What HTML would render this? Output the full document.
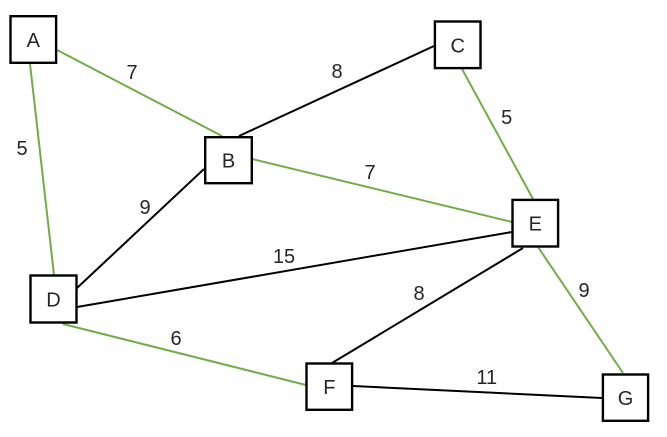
<!DOCTYPE html>
<html>
<head>
<meta charset="utf-8">
<style>
html,body{margin:0;padding:0;background:#fff;}
svg{display:block;}
text{font-family:"Liberation Sans","Noto Sans CJK SC",sans-serif;font-size:20px;fill:#262626;text-anchor:middle;}
</style>
</head>
<body>
<svg width="667" height="437" viewBox="0 0 667 437" xmlns="http://www.w3.org/2000/svg">
  <!-- edges -->
  <g stroke-width="2" fill="none">
    <line x1="57" y1="50" x2="222" y2="136" stroke="#70AD47"/>
    <line x1="30" y1="64" x2="54" y2="275" stroke="#70AD47"/>
    <line x1="239" y1="136" x2="434" y2="46" stroke="#000"/>
    <line x1="252" y1="159" x2="512" y2="222" stroke="#70AD47"/>
    <line x1="204" y1="169" x2="77" y2="288" stroke="#000"/>
    <line x1="462" y1="69" x2="533" y2="199" stroke="#70AD47"/>
    <line x1="77" y1="307" x2="512" y2="232" stroke="#000"/>
    <line x1="63" y1="324" x2="306" y2="385" stroke="#70AD47"/>
    <line x1="523" y1="248" x2="332" y2="363" stroke="#000"/>
    <line x1="538" y1="247" x2="623" y2="373" stroke="#70AD47"/>
    <line x1="353" y1="386" x2="602" y2="398" stroke="#000"/>
  </g>
  <!-- nodes -->
  <g stroke="#000" stroke-width="2.4" fill="#fff">
    <rect x="10.5" y="16.2" width="45.6" height="46.6"/>
    <rect x="205.2" y="137.2" width="46.6" height="46"/>
    <rect x="434.9" y="21.5" width="45.6" height="46.6"/>
    <rect x="30.5" y="275.5" width="46" height="47"/>
    <rect x="512.5" y="199.9" width="45.6" height="46.6"/>
    <rect x="306.5" y="363.5" width="45.6" height="46.3"/>
    <rect x="602.9" y="374.5" width="45.2" height="46.3"/>
  </g>
  <!-- node labels -->
  <text x="33.3" y="47">A</text>
  <text x="228.5" y="167.5">B</text>
  <text x="457.7" y="52.3">C</text>
  <text x="53.5" y="306.5">D</text>
  <text x="535.3" y="230.5">E</text>
  <text x="329.3" y="394">F</text>
  <text x="625.5" y="405">G</text>
  <!-- edge labels -->
  <text x="132" y="79">7</text>
  <text x="22" y="155">5</text>
  <text x="145" y="214">9</text>
  <text x="337" y="78">8</text>
  <text x="506.7" y="124">5</text>
  <text x="370" y="179">7</text>
  <text x="284" y="263">15</text>
  <text x="176" y="345">6</text>
  <text x="419" y="300">8</text>
  <text x="584" y="297">9</text>
  <text x="486.7" y="384">11</text>
</svg>
</body>
</html>
